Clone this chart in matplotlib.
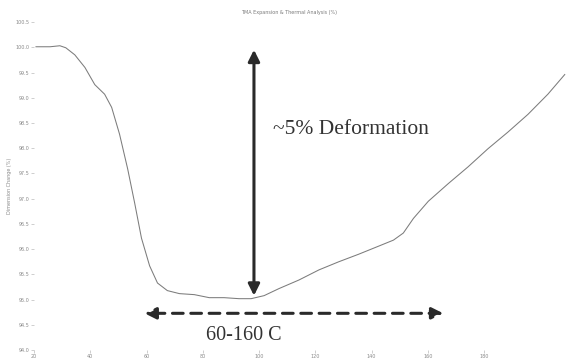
import matplotlib
matplotlib.use("Agg")
import matplotlib.pyplot as plt

# TMA scan: sample dimension (%) vs temperature (C)
temps = [20.7, 25.7, 29.2, 31.3, 34.5, 38.1, 41.6, 45.1, 47.6, 50.4, 53.3, 55.8,
         58.2, 61.1, 63.9, 67.4, 71.7, 77.0, 82.3, 87.6, 92.9, 97.2, 101.8, 107.1,
         114.2, 121.3, 128.3, 135.4, 142.5, 147.8, 151.3, 154.9, 160.2, 167.3,
         174.3, 181.4, 188.5, 195.6, 202.7, 208.7]
dimension = [100.01, 100.01, 100.03, 99.99, 99.85, 99.60, 99.26, 99.07, 98.81,
             98.28, 97.59, 96.91, 96.22, 95.67, 95.33, 95.18, 95.12, 95.10, 95.04,
             95.04, 95.02, 95.02, 95.08, 95.22, 95.39, 95.59, 95.75, 95.90, 96.06,
             96.18, 96.32, 96.61, 96.95, 97.30, 97.63, 97.99, 98.32, 98.67, 99.07,
             99.46]

x_ticks = [20, 40, 60, 80, 100, 120, 140, 160, 180]
y_ticks = [100.5, 100.0, 99.5, 99.0, 98.5, 98.0, 97.5, 97.0, 96.5, 96.0,
           95.5, 95.0, 94.5, 94.0]

# annotation positions
defo_x, defo_top, defo_bottom = 98.2, 99.95, 95.08
range_y, range_left, range_right = 94.73, 59.3, 165.5

fig = plt.figure(figsize=(5.67, 3.61), dpi=100)
ax = fig.add_axes([0.06, 0.03, 0.94, 0.909])

ax.plot(temps, dimension, color="#7c7c7c", lw=0.75)

ax.set_xlim(20, 209.5)
ax.set_ylim(94.0, 100.5)
ax.set_xticks(x_ticks)
ax.set_yticks(y_ticks)
ax.set_xticklabels([str(t) for t in x_ticks])
ax.set_yticklabels([f"{v:.1f}" for v in y_ticks])
ax.tick_params(labelsize=3.5, labelcolor="#8a8a8a", color="#bbbbbb",
               length=2, width=0.5, pad=1)
for s in ax.spines.values():
    s.set_visible(False)
ax.set_ylabel("Dimension Change (%)", fontsize=3.5, color="#8a8a8a", labelpad=3)

fig.text(0.51, 0.962, "TMA Expansion & Thermal Analysis (%)", ha="center",
         fontsize=3.5, color="#7a7a7a")

# vertical double arrow for the deformation
ax.annotate("", xy=(defo_x, defo_top), xytext=(defo_x, defo_bottom),
            arrowprops=dict(arrowstyle="<|-|>", color="#2a2a2a", lw=2.2,
                            mutation_scale=17, shrinkA=0, shrinkB=0))
ax.text(104.8, 98.38, "~5% Deformation", family="Liberation Serif",
        fontsize=15.5, color="#333333", va="center", ha="left")

# dashed horizontal arrow for the temperature range
ax.annotate("", xy=(range_left, range_y), xytext=(range_right, range_y),
            arrowprops=dict(arrowstyle="<|-|>", color="#2a2a2a", lw=2.2,
                            linestyle=(0, (3.5, 2.5)), mutation_scale=17,
                            shrinkA=0, shrinkB=0))
ax.text(94.7, 94.29, "60-160 C", family="Liberation Serif",
        fontsize=14.5, color="#333333", va="center", ha="center")

fig.savefig("out.png", dpi=100)
